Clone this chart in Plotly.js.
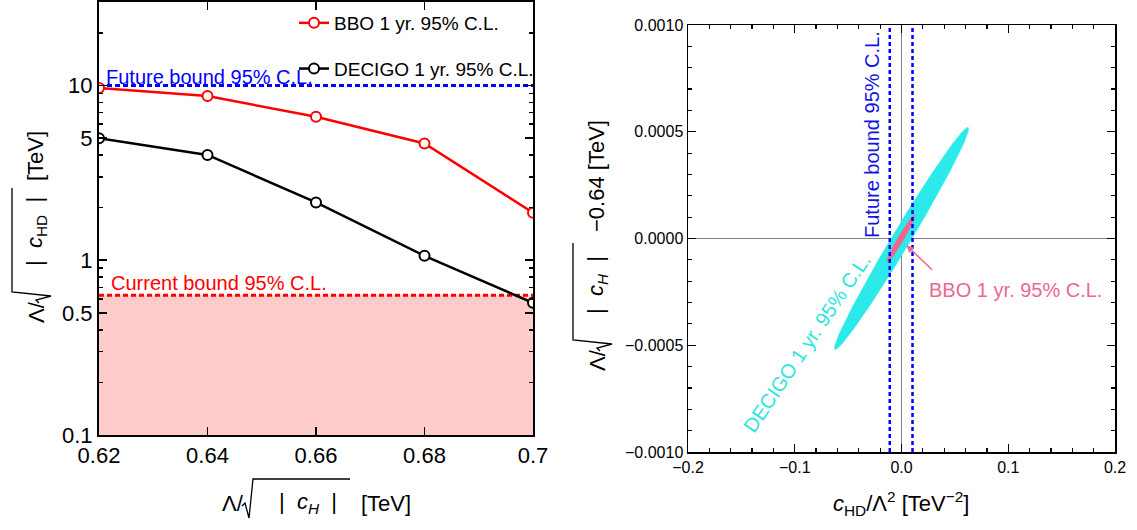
<!DOCTYPE html>
<html>
<head>
<meta charset="utf-8">
<script src="https://cdn.plot.ly/plotly-3.0.1.min.js"></script>
<style>html,body{margin:0;padding:0;background:#fff;}#chart{width:1137px;height:530px;}</style>
</head>
<body>
<div id="chart"></div>
<script>
// ---------------- data (left panel) ----------------
const lambdaCH = [0.62, 0.64, 0.66, 0.68, 0.70];          // Λ/sqrt|c_H| [TeV]
const bboBound = [9.67, 8.69, 6.61, 4.65, 1.87];         // Λ/sqrt|c_HD| [TeV]
const decigoBound = [4.99, 4.00, 2.14, 1.06, 0.57];
const futureBoundLeft = 10;
const currentBoundLeft = 0.63;
const leftXTicks = [0.62, 0.64, 0.66, 0.68, 0.70];
const leftXTickText = ["0.62", "0.64", "0.66", "0.68", "0.7"];
const leftYTicks = [0.1, 0.5, 1, 5, 10];
const leftYTickText = ["0.1", "0.5", "1", "5", "10"];
const leftYMinor = [0.2, 0.3, 0.4, 0.6, 0.7, 0.8, 0.9, 2, 3, 4, 6, 7, 8, 9, 20, 30];

// ---------------- data (right panel) ----------------
const futureBoundCHD = [-0.011, 0.0103];                 // c_HD/Λ^2 vertical lines
const decigoCenter = [0.0, 0.0];
const decigoMajor = [0.0625, 0.00052];                   // semi-major axis end (relative)
const decigoMinor = [-0.0072, 0.000022];                 // semi-minor axis end (relative)
const bboCenter = [-0.0005, 0.0];
const bboMajor = [0.013, 0.00011];
const bboMinor = [-0.0024, 0.0000072];

const W = 1137, H = 530;
const px = x => x / W;
const py = y => 1 - y / H;
const FONT = "Liberation Sans, Arial, Helvetica, sans-serif";
const NB = "\u00a0";

function ellipse(c, a, b) {
  const xs = [], ys = [];
  for (let i = 0; i <= 180; i++) {
    const t = 2 * Math.PI * i / 180;
    xs.push(c[0] + Math.cos(t) * a[0] + Math.sin(t) * b[0]);
    ys.push(c[1] + Math.cos(t) * a[1] + Math.sin(t) * b[1]);
  }
  return {xs, ys};
}
const xl = [leftXTicks[0], leftXTicks[leftXTicks.length - 1]];
const dE = ellipse(decigoCenter, decigoMajor, decigoMinor);
const bE = ellipse(bboCenter, bboMajor, bboMinor);

const traces = [
  {x: [xl[0], xl[1], xl[1], xl[0]], y: [0.1, 0.1, currentBoundLeft, currentBoundLeft],
   fill: "toself", fillcolor: "rgb(255,204,204)", mode: "none", showlegend: false, hoverinfo: "skip",
   xaxis: "x", yaxis: "y"},
  {x: xl, y: [currentBoundLeft, currentBoundLeft], mode: "lines",
   line: {color: "#ff0000", width: 3, dash: "5px,3px"}, showlegend: false, xaxis: "x", yaxis: "y"},
  {x: xl, y: [futureBoundLeft, futureBoundLeft], mode: "lines",
   line: {color: "#0000ff", width: 3, dash: "5px,3px"}, showlegend: false, xaxis: "x", yaxis: "y"},
  {x: lambdaCH, y: bboBound, mode: "lines+markers", name: "BBO 1 yr. 95% C.L.",
   line: {color: "#ff0000", width: 2.5},
   marker: {symbol: "circle", size: 10, color: "#ffffff", line: {color: "#ff0000", width: 2}},
   legendgroup: "a", xaxis: "x", yaxis: "y"},
  {x: lambdaCH, y: decigoBound, mode: "lines+markers", name: "DECIGO 1 yr. 95% C.L.",
   line: {color: "#000000", width: 2.5},
   marker: {symbol: "circle", size: 10, color: "#ffffff", line: {color: "#000000", width: 2}},
   legendgroup: "b", xaxis: "x", yaxis: "y"},
  {x: dE.xs, y: dE.ys, fill: "toself", fillcolor: "rgb(44,234,234)", mode: "lines",
   line: {color: "rgb(44,234,234)", width: 0.5}, showlegend: false, xaxis: "x2", yaxis: "y2"},
  {x: bE.xs, y: bE.ys, fill: "toself", fillcolor: "rgb(236,104,142)", mode: "lines",
   line: {color: "rgb(236,104,142)", width: 0.5}, showlegend: false, xaxis: "x2", yaxis: "y2"},
  {x: [futureBoundCHD[0], futureBoundCHD[0]], y: [-0.001, 0.001], mode: "lines",
   line: {color: "#0000ff", width: 2.5, dash: "4px,3px"}, showlegend: false, xaxis: "x2", yaxis: "y2"},
  {x: [futureBoundCHD[1], futureBoundCHD[1]], y: [-0.001, 0.001], mode: "lines",
   line: {color: "#0000ff", width: 2.5, dash: "4px,3px"}, showlegend: false, xaxis: "x2", yaxis: "y2"}
];

// Axis title with a drawn radical sign: d = top-left corner of the radical's bar (px)
const annotations = [];
const shapes = [];
function sqrtTitle(dx, dy, vertical, inner, innerU, tail, tailU, barLen) {
  const P = (u, v) => vertical ? [dx + v, dy - u] : [dx + u, dy + v];
  const ann = (u, text) => {
    const p = P(u, 24);
    annotations.push({xref: "paper", yref: "paper", x: px(p[0]), y: py(p[1]),
      xanchor: "center", yanchor: "middle", textangle: vertical ? -90 : 0,
      text: text, showarrow: false, font: {size: 22, color: "#000"}});
  };
  ann(-20, "Λ/");
  ann(innerU, inner);
  ann(tailU, tail);
  const pts = [[-11, 27], [-8, 24], [-4, 39], [0, 0], [barLen, 0]].map(q => P(q[0], q[1]));
  const path = pts.map((p, i) => (i ? "L" : "M") + px(p[0]).toFixed(5) + "," + py(p[1]).toFixed(5)).join(" ");
  shapes.push({type: "path", xref: "paper", yref: "paper", path: path,
               line: {color: "#000", width: 1.3}});
}
const innerH = "|" + NB + NB + "<i>c<sub>H</sub></i>" + NB + NB + "|";
const innerHD = "|" + NB + NB + "<i>c</i><sub>HD</sub>" + NB + NB + "|";
sqrtTitle(253, 479, false, innerH, 55, "[TeV]", 133, 97);
sqrtTitle(12, 292, true, innerHD, 60, "[TeV]", 136, 104);
sqrtTitle(573, 340, true, innerH, 55, "−0.64" + NB + "[TeV]", 164, 97);

annotations.push(
  {xref: "paper", yref: "paper", x: px(209), y: py(77), xanchor: "center", yanchor: "middle",
   text: "Future bound 95% C.L.", showarrow: false, font: {size: 20, color: "#0000ff"}},
  {xref: "paper", yref: "paper", x: px(219), y: py(283), xanchor: "center", yanchor: "middle",
   text: "Current bound 95% C.L.", showarrow: false, font: {size: 20, color: "#ff0000"}},
  {xref: "paper", yref: "paper", x: px(901), y: py(503), xanchor: "center", yanchor: "middle",
   text: "<i>c</i><sub>HD</sub>/Λ<sup>2</sup> [TeV<sup>−2</sup>]",
   showarrow: false, font: {size: 22}},
  {xref: "paper", yref: "paper", x: px(872), y: py(135), xanchor: "center", yanchor: "middle", textangle: -90,
   text: "Future bound 95% C.L.", showarrow: false, font: {size: 20, color: "#1515e0"}},
  {xref: "paper", yref: "paper", x: px(807), y: py(343), xanchor: "center", yanchor: "middle", textangle: -56,
   text: "DECIGO 1 yr. 95% C.L.", showarrow: false, font: {size: 20, color: "rgb(44,230,220)"}},
  {xref: "paper", yref: "paper", x: px(1015), y: py(290), xanchor: "center", yanchor: "middle",
   text: "BBO 1 yr. 95% C.L.", showarrow: false, font: {size: 20, color: "rgb(236,104,142)"}},
  {xref: "x2", yref: "y2", x: 0.0047, y: -0.0000314, text: "", showarrow: true,
   ax: 27, ay: 26, arrowhead: 2, arrowsize: 1, arrowwidth: 1.5, arrowcolor: "rgb(236,104,142)"}
);

const layout = {
  width: W, height: H,
  margin: {l: 0, r: 0, t: 0, b: 0},
  paper_bgcolor: "#fff", plot_bgcolor: "#fff",
  font: {family: FONT, color: "#000"},
  showlegend: true,
  legend: {x: px(294), y: py(4), xanchor: "left", yanchor: "top", bgcolor: "rgba(0,0,0,0)",
           font: {size: 19, family: FONT}, tracegroupgap: 18, traceorder: "grouped"},
  xaxis: {domain: [px(99), px(533)], range: [0.62, 0.70], anchor: "y",
          tickmode: "array", tickvals: leftXTicks, ticktext: leftXTickText,
          ticks: "inside", ticklen: 8, tickwidth: 1.5, tickcolor: "#000",
          showline: true, linecolor: "#000", linewidth: 2, mirror: "ticks",
          showgrid: false, zeroline: false, tickfont: {size: 22}},
  yaxis: {domain: [py(435), py(2)], type: "log", range: [-1, Math.log10(30)], anchor: "x",
          tickmode: "array", tickvals: leftYTicks, ticktext: leftYTickText,
          ticks: "inside", ticklen: 8, tickwidth: 1.5, tickcolor: "#000",
          minor: {tickmode: "array", tickvals: leftYMinor, ticks: "inside", ticklen: 4, tickcolor: "#000", showgrid: false},
          showline: true, linecolor: "#000", linewidth: 2, mirror: "ticks",
          showgrid: false, zeroline: false, tickfont: {size: 22}},
  xaxis2: {domain: [px(688), px(1115)], range: [-0.2, 0.2], anchor: "y2",
           dtick: 0.1, tickformat: ".1f",
           ticks: "inside", ticklen: 8, tickwidth: 1.2, tickcolor: "#000",
           minor: {dtick: 0.02, ticks: "inside", ticklen: 4, tickcolor: "#000", showgrid: false},
           showline: true, linecolor: "#000", linewidth: 1.5, mirror: "ticks",
           showgrid: false, zeroline: true, zerolinecolor: "#808080", zerolinewidth: 1,
           layer: "above traces", tickfont: {size: 16}},
  yaxis2: {domain: [py(452), py(25)], range: [-0.001, 0.001], anchor: "x2",
           dtick: 0.0005, tickformat: ".4f",
           ticks: "inside", ticklen: 8, tickwidth: 1.2, tickcolor: "#000",
           minor: {dtick: 0.0001, ticks: "inside", ticklen: 4, tickcolor: "#000", showgrid: false},
           showline: true, linecolor: "#000", linewidth: 1.5, mirror: "ticks",
           showgrid: false, zeroline: true, zerolinecolor: "#808080", zerolinewidth: 1,
           layer: "above traces", tickfont: {size: 16}},
  annotations: annotations,
  shapes: shapes
};

Plotly.newPlot("chart", traces, layout, {displayModeBar: false, staticPlot: true});
</script>
</body>
</html>
